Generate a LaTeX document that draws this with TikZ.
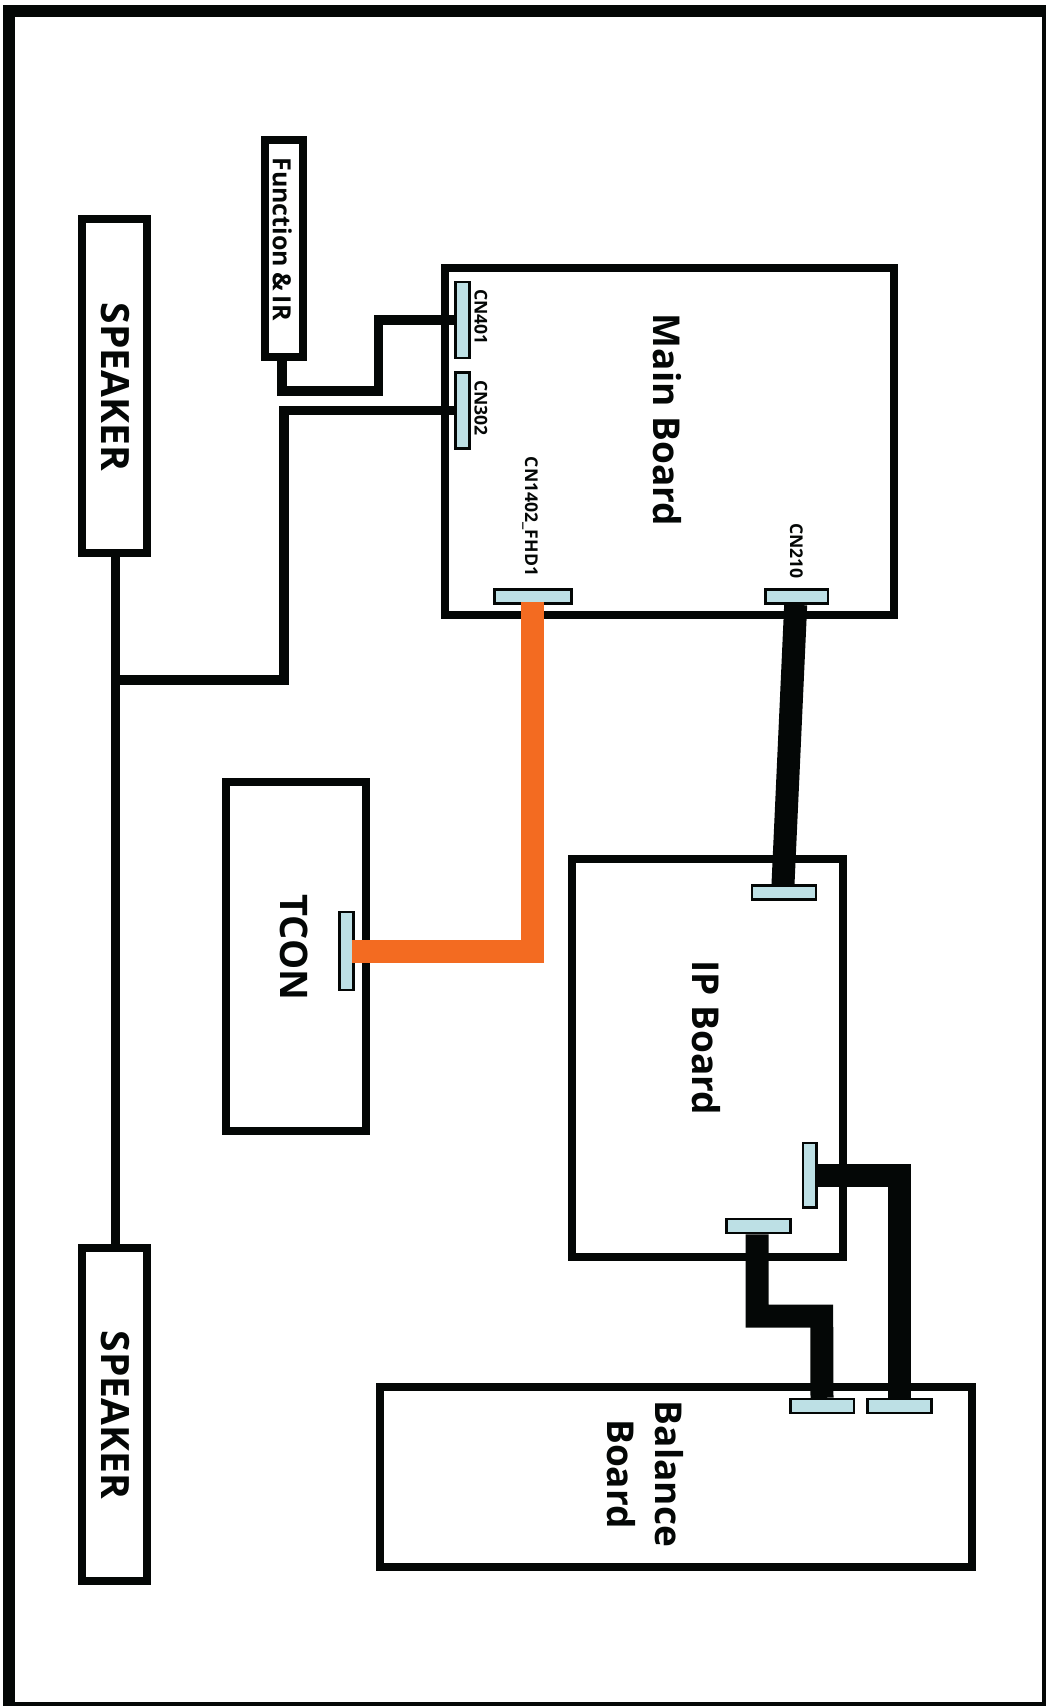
\documentclass[tikz,border=0pt]{standalone}
\usepackage{xcolor}
\usepackage{fontspec}
\setmainfont{Open Sans}
\usepackage{tikz}
\definecolor{inkblack}{HTML}{040706}
\definecolor{padblue}{HTML}{BDE0E5}
\definecolor{lvdsorange}{HTML}{F36B21}

\begin{document}
\begin{tikzpicture}[
      x=1pt, y=-1pt,
      board/.style={rectangle, draw=inkblack, line width=8pt, inner sep=0pt},
      padv/.style={rectangle, draw=inkblack, fill=padblue, line width=2.5pt, inner sep=0pt, minimum width=13.9pt, minimum height=76pt},
      padh/.style={rectangle, draw=inkblack, fill=padblue, line width=2.5pt, inner sep=0pt, minimum width=64.3pt, minimum height=14pt},
      title/.style={rotate=-90, inner sep=0pt, align=center, text=inkblack, font=\bfseries\fontsize{37}{48}\selectfont},
      tag/.style={rotate=-90, inner sep=0pt, text=inkblack, font=\bfseries\fontsize{17.6}{20}\selectfont},
      wire/.style={draw=inkblack, line width=9.3pt},
      cable/.style={draw=inkblack, line width=23pt}
    ]
      \clip (0,0) rectangle (1046,1706);
      \draw[draw=inkblack, line width=12pt] (9,10.5) rectangle (1048,1708);

      \node[board, minimum width=64.4pt, minimum height=334pt] (speakertop) at (114.5,386) {};
      \node[board, minimum width=64.4pt, minimum height=333pt] (speakerbot) at (114.5,1414.5) {};
      \node[board, minimum width=38.6pt, minimum height=217pt] (function) at (284,248.5) {};
      \node[board, minimum width=449pt, minimum height=347pt] (mainboard) at (669.2,441) {};
      \node[board, minimum width=140.3pt, minimum height=348.5pt] (tcon) at (295.85,956.7) {};
      \node[board, minimum width=270.4pt, minimum height=397.5pt] (ipboard) at (707.5,1058.2) {};
      \node[board, minimum width=592pt, minimum height=180pt] (balance) at (676,1477) {};

      \node[title, font=\bfseries\fontsize{39}{48}\selectfont] at (115.3,387) {SPEAKER};
      \node[title, font=\bfseries\fontsize{39}{48}\selectfont] at (115.3,1414.7) {SPEAKER};
      \node[title, font=\bfseries\fontsize{25}{28}\selectfont] at (282.3,239) {Function\hspace{5pt}\&\hspace{5pt}IR};
      \node[title] at (667,420) {Main Board};
      \node[title, font=\bfseries\fontsize{38}{48}\selectfont] at (294,947.5) {TCON};
      \node[title] at (706,1037.5) {IP Board};
      \node[title] at (645,1474) {Balance\\Board};

      \node[padv] (cn401) at (462.5,320) {};
      \node[padv] (cn302) at (462.5,410.3) {};
      \node[padh, minimum width=77pt] (cn1402) at (533,596.6) {};
      \node[padh, minimum width=62.8pt] (cn210) at (796.7,596.6) {};
      \node[padv, minimum height=78pt] (tconpad) at (346.6,951) {};
      \node[padh] (iptop) at (784,892.5) {};
      \node[padv, minimum height=64.5pt] (ipright) at (809.7,1175.2) {};
      \node[padh] (ipbot) at (758.5,1226) {};
      \node[padh, minimum width=63.5pt] (balancea) at (822,1406) {};
      \node[padh] (balanceb) at (899.5,1406) {};

      \node[tag] at (480.8,317) {CN401};
      \node[tag] at (480.8,408) {CN302};
      \node[tag] at (530,516.5) {CN1402\_FHD1};
      \node[tag] at (796.3,551) {CN210};

      \coordinate (tap) at (115.3,680);

      \draw[wire] ([xshift=.8pt]speakertop.south) -- ([xshift=.8pt]speakerbot.north);
      \draw[wire] (cn302.west) -| (284,680) -- (tap);
      \draw[wire] ([xshift=-2pt]function.south) |- (378.7,391) |- (cn401.west);
      \draw[cable] ([xshift=-1pt]cn210.south) -- ([xshift=-1pt]iptop.north);
      \draw[cable] (ipright.east) -| (balanceb.north);
      \draw[cable] ([xshift=-1.5pt]ipbot.south) |- (821.7,1316) -- (balancea.north);
      \draw[cable, draw=lvdsorange] ([xshift=-.8pt, yshift=2.5pt]cn1402.south) |- ([xshift=-3pt]tconpad.east);
    \end{tikzpicture}
\end{document}
